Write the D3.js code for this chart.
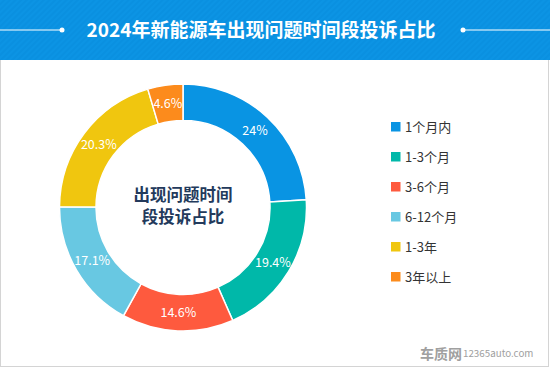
<!DOCTYPE html>
<html><head><meta charset="utf-8">
<script src="https://cdn.jsdelivr.net/npm/d3@7"></script>
<style>body{margin:0;background:#fff;}svg{display:block;font-family:"Microsoft YaHei","Noto Sans CJK SC",sans-serif;}</style>
</head><body>
<svg id="c" width="550" height="368"></svg>
<script>
const categories = ["1个月内","1-3个月","3-6个月","6-12个月","1-3年","3年以上"];
const values = [24, 19.4, 14.6, 17.1, 20.3, 4.6];
const colors = ["#0994e3","#00b8a9","#fe5a3e","#68c8e2","#f0c60f","#fc8b1c"];
const title = "2024年新能源车出现问题时间段投诉占比";
const centerText = ["出现问题时间","段投诉占比"];

const svg = d3.select("#c");
const defs = svg.append("defs");
const pat = defs.append("pattern").attr("id","stripes").attr("width",4).attr("height",4)
  .attr("patternUnits","userSpaceOnUse").attr("patternTransform","rotate(45)");
pat.append("rect").attr("width",4).attr("height",4).attr("fill","#0a90e0");
pat.append("rect").attr("width",2).attr("height",4).attr("fill","#0c94e4");

// panel border
svg.append("rect").attr("x",0.5).attr("y",0.5).attr("width",548).attr("height",366)
  .attr("fill","#fff").attr("stroke","#d4d4d4");
// title bar
svg.append("rect").attr("x",0).attr("y",0).attr("width",550).attr("height",60).attr("fill","url(#stripes)");
svg.append("line").attr("x1",0).attr("x2",62).attr("y1",30).attr("y2",30).attr("stroke","#fff").attr("stroke-width",1);
svg.append("circle").attr("cx",62).attr("cy",30).attr("r",2.5).attr("fill","#fff");
svg.append("line").attr("x1",463).attr("x2",550).attr("y1",30).attr("y2",30).attr("stroke","#fff").attr("stroke-width",1);
svg.append("circle").attr("cx",463).attr("cy",30).attr("r",2.5).attr("fill","#fff");
svg.append("text").attr("x",261).attr("y",37).attr("text-anchor","middle")
  .attr("fill","#fff").attr("font-size",19).attr("font-weight","bold").text(title);

// donut
const cx = 183, cy = 207.5, rOuter = 123.5, rInner = 87;
const pie = d3.pie().sort(null).value(d=>d)(values);
const arc = d3.arc().innerRadius(rInner).outerRadius(rOuter);
const labelArc = d3.arc().innerRadius((rInner+rOuter)/2).outerRadius((rInner+rOuter)/2);
const g = svg.append("g").attr("transform",`translate(${cx},${cy})`);
g.selectAll("path").data(pie).join("path").attr("d",arc)
  .attr("fill",(d,i)=>colors[i]).attr("stroke","#fff").attr("stroke-width",1.5);
g.selectAll("text.lbl").data(pie).join("text").attr("class","lbl")
  .attr("transform",d=>`translate(${labelArc.centroid(d)})`)
  .attr("text-anchor","middle").attr("dy","0.35em")
  .attr("fill","#fff").attr("font-size",12.5)
  .text(d=>d.data+"%");

g.selectAll("text.ct").data(centerText).join("text").attr("class","ct")
  .attr("x",0).attr("y",(d,i)=>-12+i*22).attr("dy","0.35em").attr("text-anchor","middle")
  .attr("fill","#233a5c").attr("font-size",16.5).attr("font-weight","bold").text(d=>d);

// legend
const ly = d3.scalePoint().domain(categories).range([127,277]);
const lg = svg.append("g");
lg.selectAll("rect").data(categories).join("rect")
  .attr("x",391).attr("y",d=>ly(d)-5).attr("width",9.5).attr("height",9.5)
  .attr("fill",(d,i)=>colors[i]);
lg.selectAll("text").data(categories).join("text")
  .attr("x",405).attr("y",d=>ly(d)).attr("dy","0.35em")
  .attr("fill","#333").attr("font-size",13).text(d=>d);

// watermark
svg.append("text").attr("x",462).attr("y",354).attr("dy","0.35em").attr("text-anchor","end")
  .attr("fill","#a0a0a0").attr("font-size",14).attr("font-weight","bold").text("车质网");
svg.append("text").attr("x",463).attr("y",354).attr("dy","0.35em")
  .attr("fill","#a0a0a0").attr("font-size",9.8).text("12365auto.com");
</script>
</body></html>
